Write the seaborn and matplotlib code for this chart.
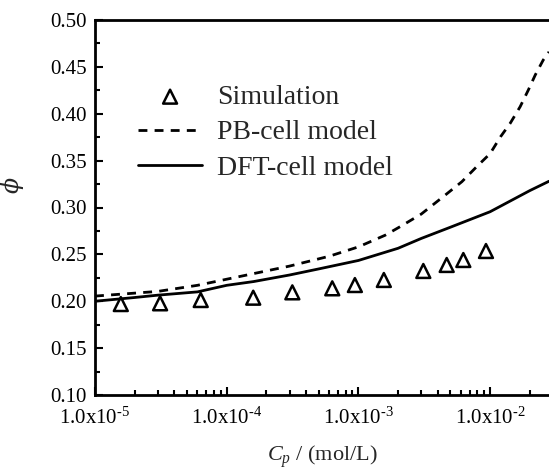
import numpy as np
import pandas as pd
import matplotlib
matplotlib.use("Agg")
import matplotlib.pyplot as plt
from matplotlib.ticker import FixedLocator, LogLocator, MultipleLocator, NullFormatter
import seaborn as sns

# ---- data ----
sim_cp = [1.57e-5, 3.12e-5, 6.35e-5, 1.59e-4, 3.15e-4, 6.33e-4, 9.4e-4,
          1.56e-3, 3.11e-3, 4.68e-3, 6.26e-3, 9.3e-3]
sim_phi = [0.197, 0.1978, 0.2013, 0.2038, 0.2095, 0.2138, 0.2173,
           0.2227, 0.2323, 0.2387, 0.2440, 0.2536]

pb_cp = [1e-5, 3e-5, 6e-5, 1e-4, 3e-4, 6e-4, 1e-3, 1.6e-3, 2.1e-3, 3e-3,
         4.4e-3, 6.1e-3, 7.9e-3, 1e-2, 1.2e-2, 1.42e-2, 1.69e-2, 1.95e-2,
         2.2e-2, 2.53e-2, 2.8e-2]
pb_phi = [0.2055, 0.2105, 0.2170, 0.2235, 0.2375, 0.2480, 0.2580, 0.2705,
          0.2800, 0.2930, 0.3115, 0.3275, 0.3435, 0.3575, 0.3755, 0.3898,
          0.4075, 0.4253, 0.4413, 0.4573, 0.4660]

dft_cp = [1e-5, 2e-5, 3e-5, 6e-5, 1e-4, 1.6e-4, 3e-4, 5e-4, 1e-3, 2e-3,
          3e-3, 5e-3, 1e-2, 2e-2, 2.8e-2]
dft_phi = [0.2000, 0.2040, 0.2065, 0.2100, 0.2170, 0.2210, 0.2280, 0.2345,
           0.2435, 0.2565, 0.2670, 0.2790, 0.2955, 0.3180, 0.3280]

x_ticks = [1e-5, 1e-4, 1e-3, 1e-2]
x_ticklabels = [r"1.0x10$^{\text{-5}}$", r"1.0x10$^{\text{-4}}$",
                r"1.0x10$^{\text{-3}}$", r"1.0x10$^{\text{-2}}$"]
y_ticks = [0.10, 0.15, 0.20, 0.25, 0.30, 0.35, 0.40, 0.45, 0.50]
y_ticklabels = ["%.2f" % v for v in y_ticks]

sns.set_style("ticks")
plt.rcParams["font.family"] = ["Liberation Serif", "DejaVu Serif"]
plt.rcParams["mathtext.fontset"] = "custom"
plt.rcParams["mathtext.rm"] = "Liberation Serif"
plt.rcParams["mathtext.it"] = "Liberation Serif:italic"

W, H = 549, 471
fig = plt.figure(figsize=(W / 100, H / 100), dpi=100)
ax = fig.add_axes([95 / W, 76 / H, (W - 95) / W, 375 / H])

sim_df = pd.DataFrame({"cp": sim_cp, "phi": sim_phi})
pb_df = pd.DataFrame({"cp": pb_cp, "phi": pb_phi})
dft_df = pd.DataFrame({"cp": dft_cp, "phi": dft_phi})

sns.lineplot(data=pb_df, x="cp", y="phi", ax=ax, color="black", lw=2.0,
             linestyle=(0, (3.2, 2.6)), label="PB-cell model")
sns.lineplot(data=dft_df, x="cp", y="phi", ax=ax, color="black", lw=2.0,
             label="DFT-cell model")
sns.scatterplot(data=sim_df, x="cp", y="phi", ax=ax, marker="^", s=100,
                facecolor="none", edgecolor="black", linewidth=1.8,
                label="Simulation", zorder=5)

ax.set_xscale("log")
ax.set_xlim(1e-5, 10 ** -1.553)
ax.set_ylim(0.10, 0.50)

ax.xaxis.set_major_locator(FixedLocator(x_ticks))
ax.set_xticklabels(x_ticklabels)
ax.xaxis.set_minor_locator(LogLocator(base=10, subs=np.arange(2, 10)))
ax.xaxis.set_minor_formatter(NullFormatter())
ax.yaxis.set_major_locator(FixedLocator(y_ticks))
ax.set_yticklabels(y_ticklabels)
ax.yaxis.set_minor_locator(MultipleLocator(0.025))

ax.tick_params(which="both", direction="in", width=1.5, colors="black",
               labelsize=15)
ax.tick_params(axis="y", pad=6)
ax.tick_params(axis="x", pad=9)
ax.tick_params(which="major", length=6)
ax.tick_params(which="minor", length=3.5)

for side in ["left", "bottom", "top"]:
    ax.spines[side].set_linewidth(2.0)
    ax.spines[side].set_color("black")
ax.spines["right"].set_visible(False)

ax.set_xlabel("$C_p$ / (mol/L)", fontsize=16, labelpad=11)
ax.set_ylabel("ϕ", fontsize=17, fontstyle="italic",
              family=["DejaVu Serif"])
ax.yaxis.set_label_coords(-0.158, 0.56)

handles, labels = ax.get_legend_handles_labels()
order = [labels.index("Simulation"), labels.index("PB-cell model"),
         labels.index("DFT-cell model")]
ax.legend([handles[i] for i in order], [labels[i] for i in order],
          loc="upper left", bbox_to_anchor=(0.095, 0.828), frameon=False,
          fontsize=20, handlelength=2.3, handletextpad=0.55,
          labelspacing=0.36, borderpad=0, borderaxespad=0)

fig.savefig("out.png", dpi=100)
